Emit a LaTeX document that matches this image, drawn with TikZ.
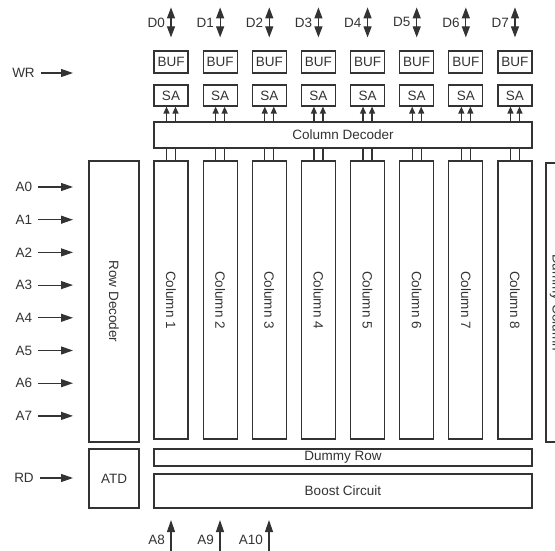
\documentclass[tikz,border=0pt]{standalone}
\usepackage{fontspec}
\setmainfont{Liberation Sans}
\usetikzlibrary{arrows.meta,positioning}
\definecolor{ink}{RGB}{51,51,51}

\begin{document}
\begin{tikzpicture}[x=1pt,y=-1pt,
  box/.style={draw=ink,line width=1.2pt,inner sep=0pt,text=ink,
              font=\fontsize{13.5}{16}\selectfont},
  lbl/.style={inner sep=6pt,text=ink,font=\fontsize{13.5}{16}\selectfont},
  arr/.style={-{Triangle[length=12pt,width=8pt]},line width=1.2pt,ink},
  dio/.style={{Triangle[length=11pt,width=8pt]}-{Triangle[length=11pt,width=8pt]},
              line width=1.2pt,ink},
  sarr/.style={-{Triangle[length=7pt,width=6pt]},line width=1.2pt,ink},
  wire/.style={line width=1.2pt,ink}
]
  \useasboundingbox (0,0) rectangle (555,551);
  \clip (0,0) rectangle (555,551);

  % decoders and array
  \node[box,minimum width=50pt,minimum height=281pt] (rowdec) at (114,301.5) {\rotatebox{-90}{Row Decoder}};
  \node[box,minimum width=50pt,minimum height=59pt] (atd) at (114,478.5) {ATD};
  \node[box,minimum width=378pt,minimum height=26pt] (cdec) at (343,135) {Column Decoder};
  \node[box,minimum width=378pt,minimum height=17pt] (drow) at (343,457.5) {Dummy Row};
  \node[box,minimum width=378pt,minimum height=34pt] (boost) at (343,491) {Boost Circuit};
  \node[box,minimum width=20pt,minimum height=279pt] (dcol) at (556,302.5) {\rotatebox{-90}{Dummy Column}};

  % columns with sense amps and buffers
  \foreach \i [evaluate=\i as \x using 171+49.14*\i,
               evaluate=\i as \n using int(\i+1)] in {0,...,7} {
    \node[box,minimum width=34pt,minimum height=278pt] (col\n) at (\x,300) {\rotatebox{-90}{Column \n}};
    \node[box,minimum width=34pt,minimum height=21pt] (sa\n) at (\x,95.5) {SA};
    \node[box,minimum width=34pt,minimum height=22pt] (buf\n) at (\x,62) {BUF};
    \node[lbl,anchor=east,inner sep=0pt] (d\i) at ([xshift=-6pt,yshift=28pt]buf\n.north) {D\i};
    \draw[dio] ([yshift=13pt]buf\n.north) -- ([yshift=43pt]buf\n.north);
    \foreach \s in {-4.5,4.5} {
      \draw[wire] ([xshift=\s pt]col\n.north) -- ([xshift=\s pt]col\n.north |- cdec.south);
      \draw[sarr] ([xshift=\s pt]sa\n.south |- cdec.north) -- ([xshift=\s pt]sa\n.south);
    }
  }

  % address and control inputs
  \node[lbl] (wr) at (23.5,73) {WR};
  \coordinate (wrin) at (73,73);
  \draw[arr] (wr) -- (wrin);
  \foreach \i in {0,...,7} {
    \node[lbl] (a\i) at (24,187+32.7*\i) {A\i};
    \coordinate (ain\i) at (73,187+32.7*\i);
    \draw[arr] (a\i) -- (ain\i);
  }
  \node[lbl] (rd) at (24,478) {RD};
  \coordinate (rdin) at (73,478);
  \draw[arr] (rd) -- (rdin);

  \foreach \n/\x in {8/171,9/220,10/269} {
    \coordinate (ab\n) at (\x,556);
    \coordinate (at\n) at (\x,520);
    \draw[arr] (ab\n) -- (at\n);
    \node[lbl,anchor=east,inner sep=0pt] (a\n) at (\x-6,540) {A\n};
  }
\end{tikzpicture}
\end{document}
